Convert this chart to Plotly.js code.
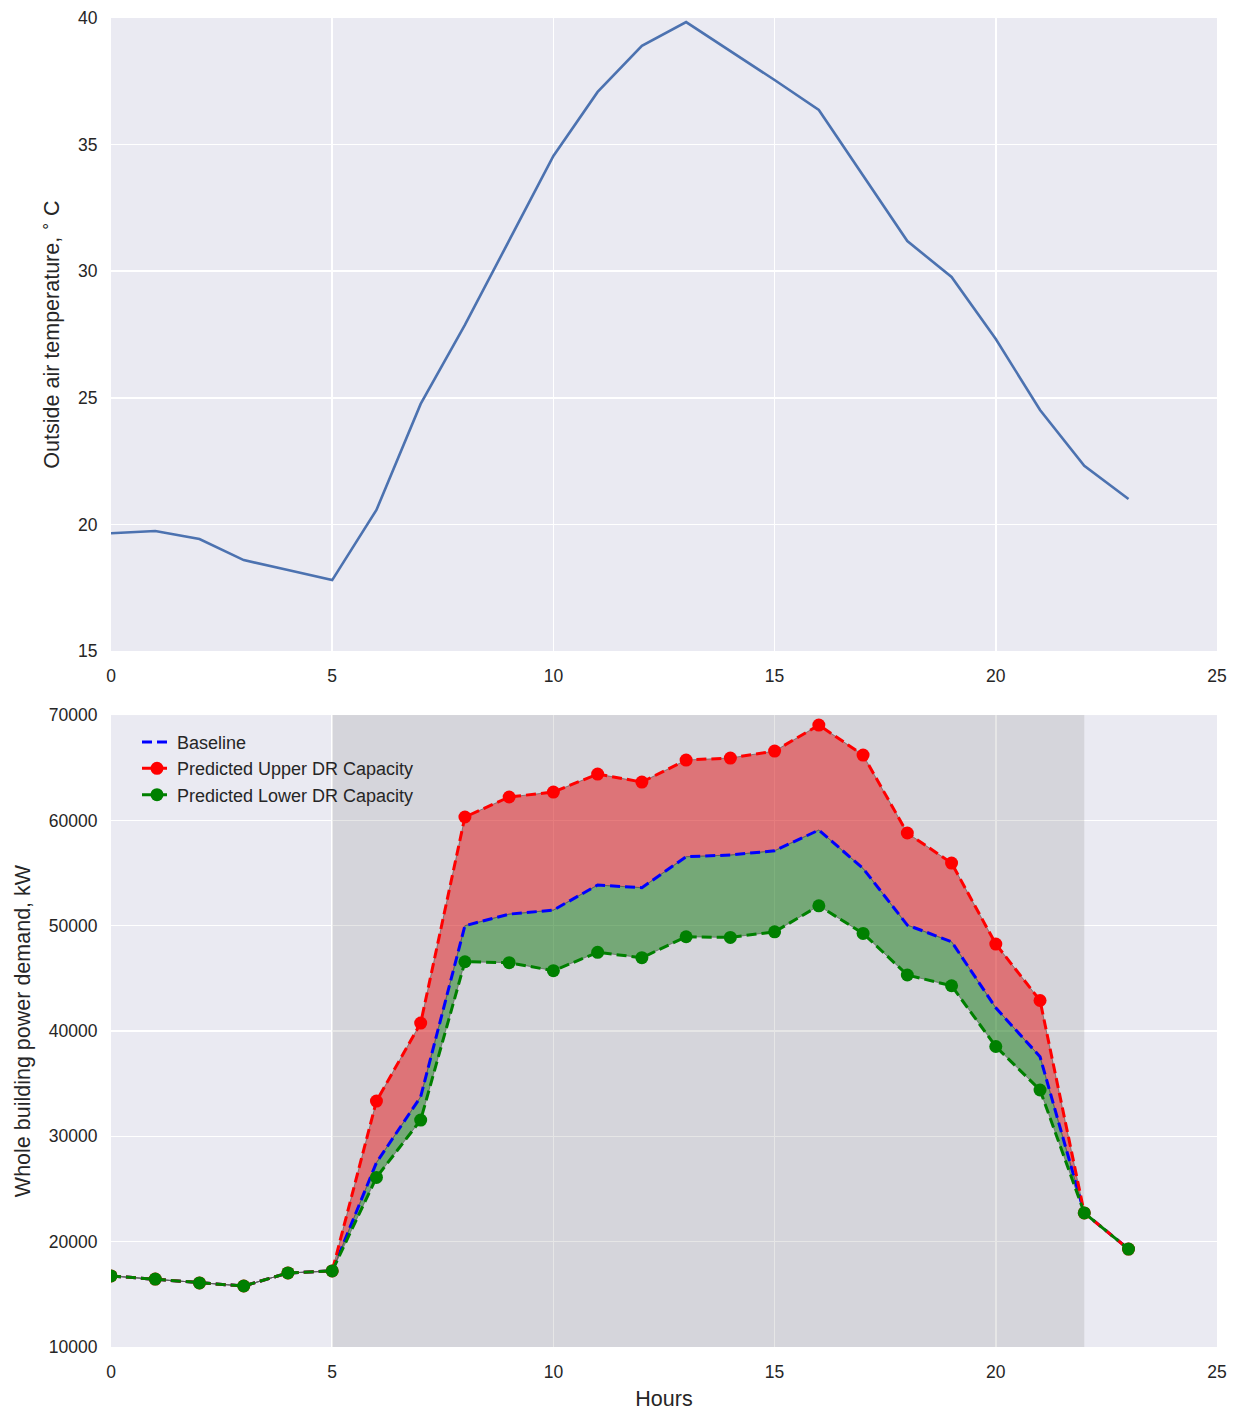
<!DOCTYPE html>
<html>
<head>
<meta charset="utf-8">
<script src="https://cdn.plot.ly/plotly-3.0.1.min.js"></script>
<style>
  html, body { margin: 0; padding: 0; background: #ffffff; }
  #chart { width: 1241px; height: 1414px; }
</style>
</head>
<body>
<div id="chart"></div>
<script>
// Hour of the day
const hours = [0, 1, 2, 3, 4, 5, 6, 7, 8, 9, 10, 11, 12, 13, 14, 15, 16, 17, 18, 19, 20, 21, 22, 23];

// Outside air temperature, deg C
const temperature = [19.65, 19.74, 19.42, 18.59, 18.2, 17.8, 20.57, 24.76, 27.88, 31.19, 34.55, 37.08,
                     38.9, 39.84, 38.7, 37.55, 36.37, 33.8, 31.19, 29.77, 27.32, 24.52, 22.31, 21.0];

// Whole building power demand, kW
const baseline = [16750, 16450, 16080, 15790, 17030, 17220, 27500, 33760, 50000, 51100, 51480, 53860,
                  53610, 56550, 56710, 57120, 59080, 55440, 50060, 48480, 42200, 37560, 22730, 19300];
const upperDR  = [16750, 16450, 16080, 15790, 17030, 17220, 33350, 40760, 60320, 62220, 62690, 64400,
                  63640, 65730, 65920, 66580, 69050, 66200, 58800, 55950, 48260, 42900, 22730, 19300];
const lowerDR  = [16750, 16450, 16080, 15790, 17030, 17220, 26100, 31550, 46580, 46490, 45730, 47470,
                  46960, 48950, 48890, 49420, 51890, 49270, 45320, 44300, 38530, 34400, 22730, 19300];

// Demand-response event window (hours)
const eventStart = 5;
const eventEnd = 22;

// Axis ranges
const hourRange = [0, 25];
const tempRange = [15, 40];
const demandRange = [10000, 70000];

const textColor = '#262626';
const fontFamily = 'Liberation Sans, Arial, sans-serif';
const edge = { color: 'rgba(90,90,90,0.8)', width: 0.8 };

const traces = [
  // temperature profile
  { x: hours, y: temperature, xaxis: 'x', yaxis: 'y', mode: 'lines',
    line: { color: '#4C72B0', width: 2.6 }, showlegend: false, hoverinfo: 'skip' },

  // event window band (above the grid, below the data)
  { x: [eventStart, eventStart, eventEnd, eventEnd, eventStart],
    y: [demandRange[0], demandRange[1], demandRange[1], demandRange[0], demandRange[0]],
    xaxis: 'x2', yaxis: 'y2', mode: 'lines', fill: 'toself',
    fillcolor: 'rgba(128,128,128,0.2)', line: { width: 0 },
    showlegend: false, hoverinfo: 'skip' },

  // shaded bands between baseline and the predicted capacities
  { x: hours, y: baseline, xaxis: 'x2', yaxis: 'y2', mode: 'lines', line: edge,
    showlegend: false, hoverinfo: 'skip' },
  { x: hours, y: upperDR, xaxis: 'x2', yaxis: 'y2', mode: 'lines', line: edge,
    fill: 'tonexty', fillcolor: 'rgba(230,20,22,0.5)', showlegend: false, hoverinfo: 'skip' },
  { x: hours, y: baseline, xaxis: 'x2', yaxis: 'y2', mode: 'lines', line: edge,
    showlegend: false, hoverinfo: 'skip' },
  { x: hours, y: lowerDR, xaxis: 'x2', yaxis: 'y2', mode: 'lines', line: edge,
    fill: 'tonexty', fillcolor: 'rgba(22,123,20,0.5)', showlegend: false, hoverinfo: 'skip' },

  // series lines
  { x: hours, y: baseline, xaxis: 'x2', yaxis: 'y2', mode: 'lines', name: 'Baseline',
    line: { color: '#0000ff', width: 3, dash: '10px,5px' } },
  { x: hours, y: upperDR, xaxis: 'x2', yaxis: 'y2', mode: 'lines+markers',
    name: 'Predicted Upper DR Capacity',
    line: { color: '#ff0000', width: 3, dash: '10px,5px' },
    marker: { color: '#ff0000', size: 13 } },
  { x: hours, y: lowerDR, xaxis: 'x2', yaxis: 'y2', mode: 'lines+markers',
    name: 'Predicted Lower DR Capacity',
    line: { color: '#008000', width: 3, dash: '10px,5px' },
    marker: { color: '#008000', size: 13 } }
];

const axisCommon = {
  showgrid: true, gridcolor: '#ffffff', gridwidth: 1.5,
  zeroline: false, showline: false,
  ticks: 'outside', ticklen: 9, tickcolor: 'rgba(0,0,0,0)',
  tickfont: { family: fontFamily, size: 17.5, color: textColor },
  tickformat: 'd'
};

const titleFont = { family: fontFamily, size: 21.5, color: textColor };

const layout = {
  width: 1241, height: 1414,
  paper_bgcolor: '#ffffff', plot_bgcolor: '#EAEAF2',
  margin: { l: 111, r: 24, t: 18, b: 67 },
  font: { family: fontFamily, color: textColor },
  showlegend: true,
  legend: {
    x: 0.0235, y: 0.4690, xanchor: 'left', yanchor: 'top',
    bgcolor: 'rgba(0,0,0,0)', borderwidth: 0, traceorder: 'normal',
    font: { family: fontFamily, size: 18, color: textColor }, tracegroupgap: 0
  },
  xaxis: Object.assign({}, axisCommon, {
    domain: [0, 1], anchor: 'y', range: hourRange, dtick: 5, tick0: 0
  }),
  yaxis: Object.assign({}, axisCommon, {
    domain: [0.5237, 1], anchor: 'x', range: tempRange, dtick: 5, tick0: 15,
    title: { text: 'Outside air temperature, <sup>∘</sup> C', font: titleFont, standoff: 12 }
  }),
  xaxis2: Object.assign({}, axisCommon, {
    domain: [0, 1], anchor: 'y2', range: hourRange, dtick: 5, tick0: 0,
    title: { text: 'Hours', font: titleFont, standoff: 9 }
  }),
  yaxis2: Object.assign({}, axisCommon, {
    domain: [0, 0.4755], anchor: 'x2', range: demandRange, dtick: 10000, tick0: 10000,
    title: { text: 'Whole building power demand, kW', font: titleFont, standoff: 12 }
  })
};

Plotly.newPlot('chart', traces, layout, { staticPlot: true, displayModeBar: false });
</script>
</body>
</html>
